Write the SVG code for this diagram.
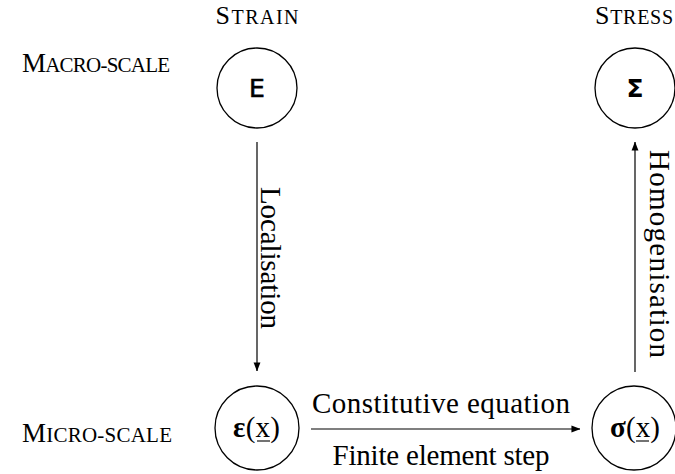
<svg xmlns="http://www.w3.org/2000/svg" width="675" height="474" viewBox="0 0 675 474">
  <style>
    .t { font-family: "Liberation Serif", "Times New Roman", serif; fill: #000; }
    .sym { font-family: "DejaVu Sans", "Liberation Sans", sans-serif; fill: #000; }
    .ring { fill: #fff; stroke: #000; stroke-width: 1.3; }
    .edge { stroke: #000; stroke-width: 1.2; fill: none; marker-end: url(#arrow); }
    .ul { stroke: #000; stroke-width: 1.1; }
  </style>
  <defs>
    <marker id="arrow" viewBox="0 0 10 10" refX="9.5" refY="5" markerWidth="9" markerHeight="9" markerUnits="userSpaceOnUse" orient="auto">
      <path d="M0,1.2 L10,5 L0,8.8 z" fill="#000"/>
    </marker>
  </defs>

  <!-- column and row headings (small caps) -->
  <g id="head-strain">
    <text class="t" x="257" y="24" font-size="26" text-anchor="middle" textLength="83" lengthAdjust="spacing">S<tspan font-size="20">TRAIN</tspan></text>
  </g>
  <g id="head-stress">
    <text class="t" x="634" y="24" font-size="26" text-anchor="middle" textLength="78" lengthAdjust="spacing">S<tspan font-size="20">TRESS</tspan></text>
  </g>
  <g id="row-macro">
    <text class="t" x="22" y="72" font-size="27" textLength="148" lengthAdjust="spacing">M<tspan font-size="21">ACRO-SCALE</tspan></text>
  </g>
  <g id="row-micro">
    <text class="t" x="22" y="442" font-size="27" textLength="150" lengthAdjust="spacing">M<tspan font-size="21">ICRO-SCALE</tspan></text>
  </g>

  <!-- connectors -->
  <g id="connectors">
    <line class="edge" x1="257" y1="142" x2="257" y2="371"/>
    <line class="edge" x1="635" y1="372" x2="635" y2="142"/>
    <line class="edge" x1="311" y1="429" x2="580" y2="429"/>
    <text class="t" font-size="29" transform="translate(261,258) rotate(90)" text-anchor="middle" textLength="142" lengthAdjust="spacing">Localisation</text>
    <text class="t" font-size="29" transform="translate(650,254) rotate(90)" text-anchor="middle" textLength="208" lengthAdjust="spacing">Homogenisation</text>
    <text class="t" font-size="29" x="441" y="413" text-anchor="middle" textLength="258" lengthAdjust="spacing">Constitutive equation</text>
    <text class="t" font-size="29" x="441" y="465" text-anchor="middle" textLength="217" lengthAdjust="spacing">Finite element step</text>
  </g>

  <!-- macro-scale nodes -->
  <g id="node-E">
    <circle class="ring" cx="257" cy="88" r="40"/>
    <text class="sym" x="257" y="97" font-size="25" stroke="#000" stroke-width="0.6" text-anchor="middle">E</text>
  </g>
  <g id="node-Sigma">
    <circle class="ring" cx="635" cy="88" r="40"/>
    <text class="sym" x="635" y="97" font-size="25" font-weight="bold" text-anchor="middle">Σ</text>
  </g>

  <!-- micro-scale nodes -->
  <g id="node-eps">
    <circle class="ring" cx="257" cy="428" r="42"/>
    <text class="t" x="233" y="437" font-size="29" textLength="47" lengthAdjust="spacing"><tspan font-weight="bold">ε</tspan>(x)</text>
    <line class="ul" x1="257" y1="441" x2="270" y2="441"/>
  </g>
  <g id="node-sigma">
    <circle class="ring" cx="634" cy="428" r="42"/>
    <text class="t" x="610" y="437" font-size="29" textLength="50" lengthAdjust="spacing"><tspan font-weight="bold">σ</tspan>(x)</text>
    <line class="ul" x1="636" y1="441" x2="649" y2="441"/>
  </g>
</svg>
